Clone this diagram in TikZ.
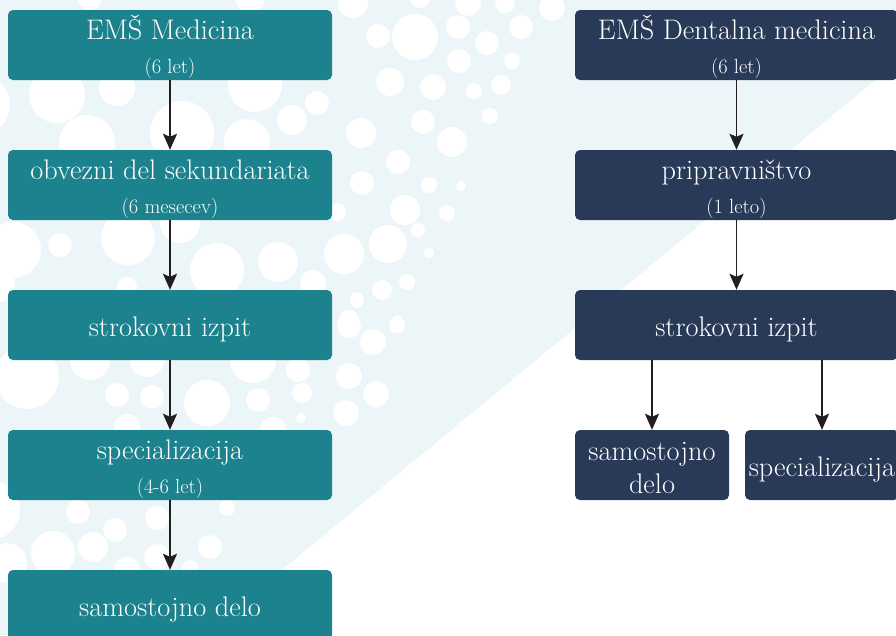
\documentclass[tikz,border=0pt]{standalone}
\usepackage{fontspec}
\usepackage{xcolor}
\usetikzlibrary{arrows.meta}

\definecolor{tealbox}{HTML}{1C828D}
\definecolor{navybox}{HTML}{283A58}
\definecolor{bgtint}{HTML}{ECF5F7}
\definecolor{arrowink}{HTML}{231F20}

\newcommand{\subtxt}[1]{{\fontsize{20.5}{34}\selectfont #1}}

\tikzset{
  medbox/.style={fill=tealbox,text=white,rounded corners=5pt,minimum width=324pt,minimum height=70pt,align=center,inner sep=0pt,font=\fontsize{28.3}{34}\selectfont,text height=22pt,text depth=0pt},
  twoline/.style={text height=56pt,text depth=0pt},
  dentbox/.style={medbox,fill=navybox,minimum width=323pt},
  smallbox/.style={dentbox,minimum width=154pt},
  arr/.style={draw=arrowink,line width=1.8pt,-{Stealth[length=16pt,width=14pt,inset=3pt]}}
}

\begin{document}
\begin{tikzpicture}[x=1pt,y=-1pt]
\useasboundingbox (0,0) rectangle (896,635);
\clip (0,0) rectangle (896,635);
\fill[bgtint] (0,0) -- (896,0) -- (896,63) -- (203,635) -- (0,635) -- cycle;
\foreach \cx/\cy/\r in {353/3/15, 420/-2/10, 468/3/13, 505/3/10, 552/8/13, 378/36/12, 415/37/23, 458/27/12,
  521/27/12, 487/43/12, 459/61/12, 512/61/8, 390/82/14, 433/87/13, 474/91/8, 501/85/10, 490/116/8,
  361/133/15, 423/122/12, 452/142/15, 398/162/12, 362/183/12, 429/185/8, 461/186/5, 337/212/9,
  405/210/15, 447/213/8, 418/230/7, 344/254/20, 388/244/19, 429/253/5, 382/290/10, 407/282/8,
  357/299/7, 349/320/10, 397/320/5, 357/302/6, 349/326/12, 397/325/8, 373/342/13, 349/376/13,
  376/394/13, 346/413/13, 57/95/28, 117/88/18, -20/105/30, 87/143/28, 182/133/32, 247/142/23,
  255/85/27, 292/120/15, 317/103/12, 13/250/28, 60/245/12, 128/238/27, 180/223/20, 217/270/27,
  278/262/20, 313/283/13, 127/287/10, -5/283/20, 27/377/32, 90/360/20, 147/360/17, 253/360/23,
  117/395/12, 152/397/12, 207/403/23, 258/400/12, 302/393/10, 298/370/12, 301/418/5, 127/427/13,
  273/430/13, -10/510/30, 78/512/12, 115/530/12, 157/518/12, 227/508/8, 53/553/22, 93/547/15,
  157/557/13, 210/547/12, 7/563/20, 127/570/13, 190/568/8, 250/-3/15, 90/-2/12}
  \fill[white] (\cx,\cy) circle (\r);

\draw (170,45) node[medbox,twoline](medA) {EMŠ Medicina\\\subtxt{(6 let)}};
\draw (170,185) node[medbox,twoline](medB) {obvezni del sekundariata\\\subtxt{(6 mesecev)}};
\draw (170,325) node[medbox](medC) {strokovni izpit};
\draw (170,465) node[medbox,twoline](medD) {specializacija\\\subtxt{(4-6 let)}};
\draw (170,605) node[medbox](medE) {samostojno delo};

\draw (736.5,45) node[dentbox,twoline](dentA) {EMŠ Dentalna medicina\\\subtxt{(6 let)}};
\draw (736.5,185) node[dentbox,twoline](dentB) {pripravništvo\\\subtxt{(1 leto)}};
\draw (736.5,325) node[dentbox](dentC) {strokovni izpit};
\draw (652,465) node[smallbox,twoline](dentD) {samostojno\\[-1pt]delo};
\draw (822,465) node[smallbox](dentE) {specializacija};

\draw[arr] (medA) -- (medB);
\draw[arr] (medB) -- (medC);
\draw[arr] (medC) -- (medD);
\draw[arr] (medD) -- (medE);
\draw[arr] (dentA) -- (dentB);
\draw[arr] (dentB) -- (dentC);
\draw[arr] (dentC.south -| dentD) -- (dentD);
\draw[arr] (dentC.south -| dentE) -- (dentE);
\end{tikzpicture}
\end{document}
